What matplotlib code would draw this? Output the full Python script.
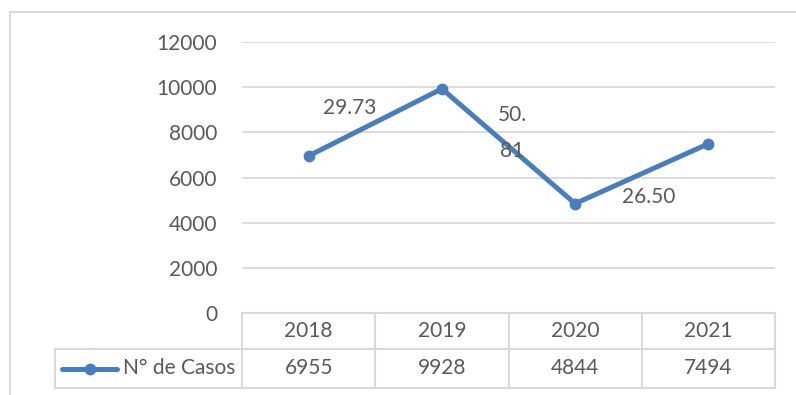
import matplotlib
matplotlib.use("Agg")
import matplotlib.pyplot as plt
from matplotlib.lines import Line2D
from matplotlib.transforms import blended_transform_factory

# Data
years = ["2018", "2019", "2020", "2021"]
casos = [6955, 9928, 4844, 7494]
series_name = "N° de Casos"
# percentage-change labels: (text, x position in category units, y value)
change_labels = ["29.73", "50.\n81", "26.50"]
change_x = [0.31, 1.53, 2.55]
change_y = [9080, 7970, 5140]
yticks = [0, 2000, 4000, 6000, 8000, 10000, 12000]

plt.rcParams["font.family"] = ["Lato", "DejaVu Sans"]
text_color = "#595959"
grid_color = "#D9D9D9"
line_color = "#4A7EBB"
fs = 15.0

W, H = 796, 395
fig = plt.figure(figsize=(W / 100, H / 100), dpi=100)
ax = fig.add_axes([242 / W, 82 / H, 533 / W, 271 / H])

x = list(range(len(years)))
ax.plot(x, casos, color=line_color, lw=3.6, marker="o", ms=7.5,
        solid_capstyle="round", solid_joinstyle="round", zorder=3)

ax.set_xlim(-0.5, len(years) - 0.5)
ax.set_ylim(0, 12000)
ax.set_yticks(yticks)
ax.set_yticklabels([str(v) for v in yticks], fontsize=fs, color=text_color)
ax.tick_params(axis="y", length=0, pad=18)
ax.set_xticks([])
for s in ax.spines.values():
    s.set_visible(False)
for v in yticks[1:]:
    ax.axhline(v, color=grid_color, lw=1.3, zorder=1)

for t, xx, yy in zip(change_labels, change_x, change_y):
    ax.text(xx, yy, t, ha="center", va="center", fontsize=fs,
            color=text_color, linespacing=1.95, zorder=4)

# Data table below the plot
tr = blended_transform_factory(ax.transData, ax.transAxes)
row1 = -36 / 271
row2 = -75 / 271
left_cell = -0.5 - 187 / 133.25
tbl_kw = dict(color=grid_color, lw=1.5, clip_on=False, zorder=2)
ax.add_line(Line2D([-0.5, 3.5], [0, 0], transform=tr, **tbl_kw))
ax.add_line(Line2D([left_cell, 3.5], [row1, row1], transform=tr, **tbl_kw))
ax.add_line(Line2D([left_cell, 3.5], [row2, row2], transform=tr, **tbl_kw))
ax.add_line(Line2D([left_cell, left_cell], [row1, row2], transform=tr, **tbl_kw))
for i in range(len(years) + 1):
    ax.add_line(Line2D([i - 0.5, i - 0.5], [0, row2], transform=tr, **tbl_kw))

for i, (yr, val) in enumerate(zip(years, casos)):
    ax.text(i, row1 / 2, yr, transform=tr, ha="center", va="center",
            fontsize=fs, color=text_color)
    ax.text(i, (row1 + row2) / 2, str(val), transform=tr, ha="center",
            va="center", fontsize=fs, color=text_color)

# legend key inside the table
ym = (row1 + row2) / 2
k0 = left_cell + 7 / 133.25
k1 = left_cell + 62 / 133.25
ax.add_line(Line2D([k0, k1], [ym, ym], transform=tr, color=line_color,
                   lw=3.6, solid_capstyle="round", clip_on=False))
ax.add_line(Line2D([(k0 + k1) / 2], [ym], transform=tr, color=line_color,
                   marker="o", ms=7.5, clip_on=False))
ax.text(-0.5 - 7 / 133.25, ym, series_name, transform=tr, ha="right",
        va="center", fontsize=fs, color=text_color)

# chart frame
fx = 10 / W
fy = 1 - 12 / H
fig.add_artist(Line2D([fx, fx], [0, fy], transform=fig.transFigure,
                      color=grid_color, lw=1.5))
fig.add_artist(Line2D([fx, 1], [fy, fy], transform=fig.transFigure,
                      color=grid_color, lw=1.5))

fig.savefig("out.png", dpi=100)
